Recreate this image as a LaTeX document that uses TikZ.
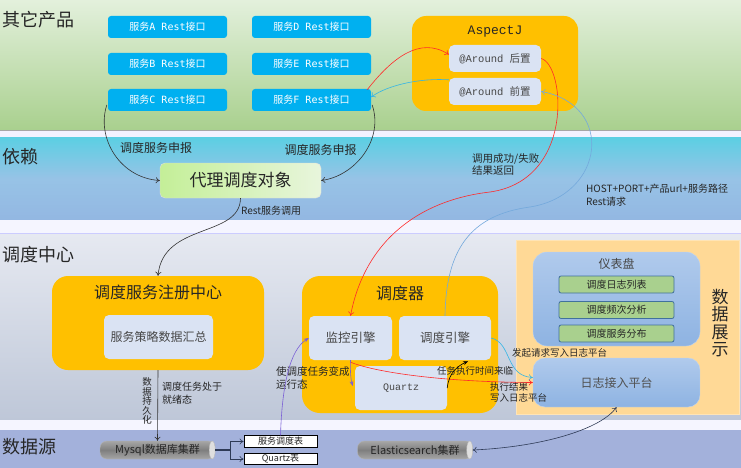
\documentclass[tikz,border=0pt]{standalone}
\usepackage{fontspec}
\setmainfont{Noto Sans CJK SC}
\newfontfamily\mono{Liberation Mono}
\newfontfamily\dmono{DejaVu Sans Mono}
\usetikzlibrary{arrows.meta,calc}
\newcommand\fsz[1]{\fontsize{#1}{#1}\selectfont}
\definecolor{gA}{HTML}{E3F0DC}
\definecolor{gB}{HTML}{A9D08E}
\definecolor{cA}{HTML}{5BCFE3}
\definecolor{cM}{HTML}{97C3E6}
\definecolor{cB}{HTML}{93B7E2}
\definecolor{sA}{HTML}{E6E9F1}
\definecolor{sB}{HTML}{BEC7D8}
\definecolor{dS}{HTML}{A3B1DB}
\definecolor{svc}{HTML}{00B0F0}
\definecolor{org}{HTML}{FFC000}
\definecolor{inner}{HTML}{DAE3F3}
\definecolor{panel}{HTML}{FFD996}
\definecolor{bA}{HTML}{B0CAEC}
\definecolor{bB}{HTML}{8EB3E2}
\definecolor{grn}{HTML}{A9D08E}
\definecolor{grnB}{HTML}{41719C}
\definecolor{pxA}{HTML}{C4EF98}
\definecolor{pxB}{HTML}{E8F5DC}
\definecolor{redc}{HTML}{FF2A2A}
\definecolor{bluec}{HTML}{74A9DC}
\definecolor{cyanc}{HTML}{33B5E5}
\definecolor{purc}{HTML}{7B5FD6}
\definecolor{navy}{HTML}{2E3A56}
\definecolor{txt}{HTML}{262626}
\definecolor{cyA}{HTML}{A6A6A6}
\definecolor{cyB}{HTML}{7F7F7F}
\tikzset{
  sec/.style={anchor=west, font=\fsz{18}, text=txt, inner sep=0pt},
  svcbox/.style={fill=svc, rounded corners=3pt, minimum width=119pt, minimum height=22pt, text=white, font=\fsz{10}, inner sep=0pt},
  orgbox/.style={fill=org, inner sep=0pt},
  innerbox/.style={fill=inner, rounded corners=5pt, text=txt!85, inner sep=0pt},
  bluebox/.style={top color=bA, bottom color=bB, draw=bA!80!white, inner sep=0pt},
  grnbox/.style={fill=grn, draw=grnB, line width=0.8pt, rounded corners=2pt, minimum width=115pt, minimum height=17pt, font=\fsz{10}, text=txt, inner sep=0pt},
  cyl/.style={minimum width=115pt, minimum height=18pt, rounded corners=7pt, top color=cyA, bottom color=cyA, middle color=cyB, draw=gray!60, font=\fsz{11}, text=txt, inner sep=0pt},
  tbl/.style={draw=black, fill=white, minimum width=73pt, minimum height=11.5pt, font=\fsz{9}, text=txt, inner sep=0pt, line width=0.8pt},
  lbl/.style={font=\fsz{10}, text=txt, inner sep=0pt, align=left},
  arr/.style={-{To[length=4pt,width=6pt]}, line width=0.6pt},
}
\begin{document}
\begin{tikzpicture}[x=1pt,y=-1pt]
\useasboundingbox (0,0) rectangle (741,468);
% bands
\fill[top color=gA, bottom color=gB] (0,0) rectangle (741,130);
\fill[white!95!blue] (0,130) rectangle (741,137);
\draw[gray!70, line width=1pt] (0,130.5) -- (741,130.5);
\fill[top color=cA, bottom color=cB, middle color=cM] (0,137) rectangle (741,220);
\fill[white!96!blue] (0,220) rectangle (741,234);
\draw[blue!20, line width=0.8pt] (0,233.5) -- (741,233.5);
\fill[top color=sA, bottom color=sB] (0,234) rectangle (741,420);
\fill[white!96!blue] (0,420) rectangle (741,430);
\draw[green!30!gray!40, line width=0.6pt] (0,429.8) -- (741,429.8);
\fill[dS] (0,430) rectangle (741,468);

\node[sec] (s1) at (2,20) {其它产品};
\node[sec] (s2) at (2,157) {依赖};
\node[sec] (s3) at (2,255) {调度中心};
\node[sec] (s4) at (2,447) {数据源};

% band 1
\node[svcbox] (svcA) at (167.5,27) {服务{\dmono A Rest}接口};
\node[svcbox] (svcB) at (167.5,64) {服务{\dmono B Rest}接口};
\node[svcbox] (svcC) at (167.5,100) {服务{\dmono C Rest}接口};
\node[svcbox] (svcD) at (311.5,27) {服务{\dmono D Rest}接口};
\node[svcbox] (svcE) at (311.5,64) {服务{\dmono E Rest}接口};
\node[svcbox] (svcF) at (311.5,100) {服务{\dmono F Rest}接口};

\node[orgbox, rounded corners=14pt, minimum width=166pt, minimum height=95pt] (aspect) at (495,63.5) {};
\node[font=\fsz{13}\mono, text=txt, inner sep=0pt] (aspt) at (495,32) {AspectJ};
\node[innerbox, minimum width=92pt, minimum height=27pt, font=\fsz{10.5}] (hou) at (495,58.5) {{\mono @Around }后置};
\node[innerbox, minimum width=92pt, minimum height=27pt, font=\fsz{10.5}] (qian) at (495,91.5) {{\mono @Around }前置};

% band 2
\node[left color=pxA, right color=pxB, draw=gray!25, rounded corners=5pt, minimum width=161pt, minimum height=35pt, font=\fsz{17}, text=txt, inner sep=0pt] (proxy) at (240.5,180.5) {代理调度对象};

% band 3
\node[orgbox, rounded corners=16pt, minimum width=212pt, minimum height=94pt] (reg) at (158,323) {};
\node[font=\fsz{16}, text=txt, inner sep=0pt] (regt) at (158,292) {调度服务注册中心};
\node[innerbox, minimum width=109pt, minimum height=44pt, font=\fsz{12}] (sum) at (158.5,337) {服务策略数据汇总};

\node[orgbox, rounded corners=18pt, minimum width=196pt, minimum height=137pt] (sched) at (400,344.5) {};
\node[font=\fsz{16}, text=txt, inner sep=0pt] (scht) at (400,293) {调度器};
\node[innerbox, minimum width=83pt, minimum height=44pt, font=\fsz{12.5}] (mon) at (350.5,338) {监控引擎};
\node[innerbox, minimum width=92pt, minimum height=44pt, font=\fsz{12.5}] (eng) at (445,338) {调度引擎};
\node[innerbox, minimum width=92pt, minimum height=44pt, font=\fsz{10}\mono] (qz) at (401,388) {Quartz};

\node[fill=panel, draw=panel!70!white, minimum width=223pt, minimum height=174pt, inner sep=0pt] (panelbox) at (627.5,327) {};
\node[align=center, font=\fontsize{17}{17.5}\selectfont, text=txt, inner sep=0pt] (show) at (720,323) {数\\据\\展\\示};
\node[bluebox, rounded corners=14pt, minimum width=167pt, minimum height=94pt] (dash) at (616.5,299) {};
\node[font=\fsz{12}, text=txt!85, inner sep=0pt] (dasht) at (616.5,264) {仪表盘};
\node[grnbox] (g1) at (616.5,284.5) {调度日志列表};
\node[grnbox] (g2) at (616.5,310) {调度频次分析};
\node[grnbox] (g3) at (616.5,333.5) {调度服务分布};
\node[bluebox, rounded corners=12pt, minimum width=167pt, minimum height=49pt, font=\fsz{12}, text=txt!80] (log) at (616.5,382.5) {日志接入平台};

% band 4
\node[cyl] (mysql) at (157.5,450) {Mysql数据库集群};
\fill[gray!25, draw=gray!55] ($(mysql.east)+(-3,0)$) ellipse (3pt and 9pt);
\node[cyl] (es) at (415,450) {Elasticsearch集群};
\fill[gray!25, draw=gray!55] ($(es.east)+(-3,0)$) ellipse (3pt and 9pt);
\node[tbl] (t1) at (280.5,441.5) {服务调度表};
\node[tbl] (t2) at (280.5,459) {Quartz表};

% labels
\node[lbl, font=\fsz{12}] (l1) at (156,148) {调度服务申报};
\node[lbl, font=\fsz{12}] (l2) at (320.5,150) {调度服务申报};
\node[lbl, anchor=west] (l3) at (241,211) {Rest服务调用};
\node[lbl, anchor=north west, font=\fontsize{10.5}{12.5}\selectfont] (l4) at (472,153) {调用成功/失败\\结果返回};
\node[lbl, anchor=north west, font=\fontsize{10}{12.5}\selectfont] (l5) at (586,184) {HOST+PORT+产品url+服务路径\\Rest请求};
\node[lbl, align=center, font=\fontsize{9.5}{9.6}\selectfont] (l6) at (147,401) {数\\据\\持\\久\\化};
\node[lbl, anchor=north west, font=\fontsize{10}{13}\selectfont] (l7) at (162,382) {调度任务处于\\就绪态};
\node[lbl, anchor=north west, font=\fontsize{10.5}{13}\selectfont] (l8) at (276,366) {使调度任务变成\\运行态};
\node[lbl, anchor=west, font=\fsz{9.5}] (l9) at (437,371) {任务执行时间来临};
\node[lbl, anchor=west, font=\fsz{9.5}] (l10) at (512,353) {发起请求写入日志平台};
\node[lbl, anchor=north west, font=\fontsize{9.5}{11.5}\selectfont] (l11) at (490,382) {执行结果\\写入日志平台};

% connectors band 1-2
\draw[arr, black!80] ($(svcC.west)+(-1,5)$) .. controls (96,138) and (120,178) .. (proxy.west);
\draw[arr, black!80] ($(svcF.east)+(1,5)$) .. controls (384,140) and (355,176) .. (proxy.east);
\draw[arr, black!80] (proxy.south) .. controls (240,238) and (163,222) .. (reg.north);
\draw[arr, redc] ($(svcF.north east)+(-4,1)$) .. controls (392,58) and (420,36) .. ($(hou.west)+(0,-4)$);
\draw[arr, cyanc] ($(qian.north west)+(0,2)$) .. controls (420,78) and (388,85) .. ($(svcF.east)+(0,-3)$);
\coordinate (r1) at (490,192);
\draw[line width=0.6pt, redc] (hou.east) .. controls (565,65) and (575,180) .. (r1);
\draw[arr, redc] (r1) .. controls (420,200) and (365,240) .. (mon.north);
\coordinate (b1) at (530,207);
\draw[line width=0.6pt, bluec] (eng.north) .. controls (446,250) and (470,215) .. (b1);
\draw[arr, bluec] (b1) .. controls (605,195) and (615,105) .. (qian.east);

% band 3 connectors
\draw[arr, cyanc] (eng.east) .. controls (512,343) and (505,376) .. ($(log.west)+(0,-5)$);
\draw[arr, redc] ($(mon.south)+(0,2)$) .. controls (375,372) and (440,382) .. (log.west);
\draw[line width=0.6pt, purc, -{Stealth[length=5pt,width=4pt]}] (t1.north) .. controls (282,385) and (290,350) .. (mon.west);
\draw[line width=0.6pt, purc, -{Stealth[length=5pt,width=4pt]}] (mon.south) .. controls (350,372) and (351,380) .. ($(qz.west)+(-2,-2)$);
\draw[line width=0.6pt, black, -{Stealth[length=5pt,width=4pt]}] (qz.east) .. controls (449,372) and (458,366) .. ($(eng.south)+(23,1)$);
\draw[line width=0.6pt, navy, {To[length=4pt,width=6pt]}-{To[length=4pt,width=6pt]}] (es.east) .. controls (540,447) and (600,430) .. (log.south);

% band 3-4 connectors
\draw[arr, black!80] (reg.south) -- (mysql.north);
\coordinate (jn) at ($(mysql.east)+(15,0)$);
\draw[line width=1.4pt, navy] (mysql.east) -- (jn);
\draw[arr, navy] (jn) |- (t1.west);
\draw[arr, navy] (jn) |- (t2.west);
\end{tikzpicture}
\end{document}
